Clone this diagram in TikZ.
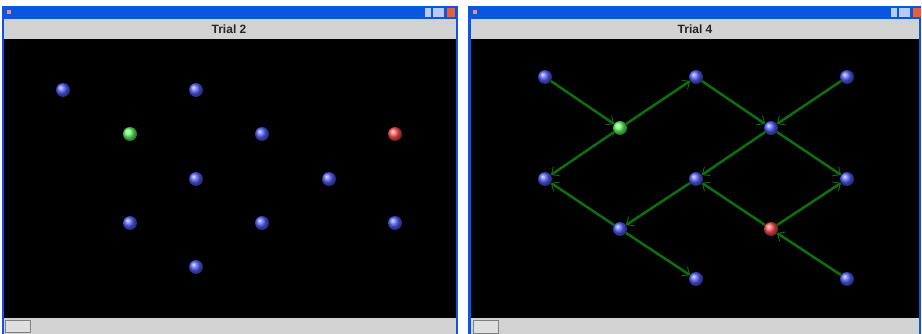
\documentclass[tikz,border=0pt]{standalone}
\usepackage{fontspec}
\setsansfont{Liberation Sans}
\usetikzlibrary{arrows.meta}
\definecolor{xpblue}{HTML}{0A56DE}
\definecolor{panelgray}{HTML}{D2D2D2}
\definecolor{edgegreen}{HTML}{0C700C}
\definecolor{beadblue}{HTML}{5560FF}
\definecolor{beadgreen}{HTML}{60FF60}
\definecolor{beadred}{HTML}{FF5050}
\definecolor{closered}{HTML}{E8603A}
\definecolor{iconblue}{HTML}{B8CCF2}

\begin{document}
\begin{tikzpicture}[
    x=1pt, y=-1pt,
    every node/.style={font=\sffamily},
    frame/.style={fill=xpblue},
    strip/.style={fill=panelgray},
    canvas/.style={fill=black},
    btn/.style={fill=panelgray!70, draw=gray, line width=0.5pt},
    title/.style={font=\sffamily\bfseries\large, text=black!85},
    marble/.style={
        circle, inner sep=0pt, minimum size=14pt,
        ball color=#1
    },
    arr/.style={
        -{Straight Barb[length=6pt, width=11pt, line width=0.9pt]},
        line width=2.5pt,
        color=edgegreen
    }
]
\useasboundingbox (0,0) rectangle (922,334);

% Windows
\fill[frame] (2,6) rectangle (458,334);
\fill[frame] (468,6) rectangle (921,334);
\fill[strip] (4,19) rectangle (456,39);
\fill[strip] (471,19) rectangle (919,39);
\fill[canvas] (4,39) rectangle (456,318);
\fill[canvas] (471,39) rectangle (919,318);
\fill[strip] (4,318) rectangle (456,334);
\fill[strip] (471,318) rectangle (919,334);

% Title bar icons
\fill[closered!70] (7,10) rectangle (11,14);
\fill[closered!70] (473,10) rectangle (477,14);
\foreach \ox in {0,466} {
    \fill[iconblue] (425+\ox,8) rectangle (431+\ox,17);
    \fill[iconblue] (433+\ox,8) rectangle (444+\ox,17);
    \fill[closered] (447+\ox,8) rectangle (455+\ox,17);
}

% Bottom buttons
\draw[btn] (5,320) rectangle (30,332);
\draw[btn] (473,320) rectangle (498,333);

% Titles
\node[title] (t2) at (229,29) {Trial 2};
\node[title] (t4) at (695,29) {Trial 4};

% Trial 2
\node[marble=beadblue] (l1) at (63,90) {};
\node[marble=beadblue] (l2) at (196,90) {};
\node[marble=beadgreen] (l3) at (130,134) {};
\node[marble=beadblue] (l4) at (262,134) {};
\node[marble=beadred] (l5) at (395,134) {};
\node[marble=beadblue] (l6) at (196,179) {};
\node[marble=beadblue] (l7) at (329,179) {};
\node[marble=beadblue] (l8) at (130,223) {};
\node[marble=beadblue] (l9) at (262,223) {};
\node[marble=beadblue] (l10) at (395,223) {};
\node[marble=beadblue] (l11) at (196,267) {};

% Trial 4
\node[marble=beadblue] (a) at (545,77) {};
\node[marble=beadblue] (b) at (696,77) {};
\node[marble=beadblue] (c) at (847,77) {};
\node[marble=beadgreen] (g) at (620,128) {};
\node[marble=beadblue] (d) at (771,128) {};
\node[marble=beadblue] (e) at (545,179) {};
\node[marble=beadblue] (f) at (696,179) {};
\node[marble=beadblue] (h) at (847,179) {};
\node[marble=beadblue] (i) at (620,229) {};
\node[marble=beadred] (r) at (771,229) {};
\node[marble=beadblue] (j) at (696,279) {};
\node[marble=beadblue] (k) at (847,279) {};

% Arrows
\draw[arr] (a) -- (g);
\draw[arr] (g) -- (b);
\draw[arr] (g) -- (e);
\draw[arr] (b) -- (d);
\draw[arr] (c) -- (d);
\draw[arr] (d) -- (f);
\draw[arr] (d) -- (h);
\draw[arr] (f) -- (i);
\draw[arr] (i) -- (e);
\draw[arr] (i) -- (j);
\draw[arr] (r) -- (f);
\draw[arr] (r) -- (h);
\draw[arr] (k) -- (r);

\end{tikzpicture}
\end{document}
